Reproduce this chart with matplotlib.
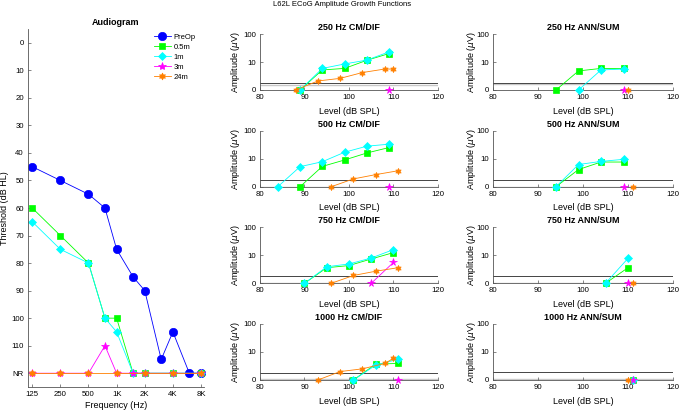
import numpy as np
import matplotlib
matplotlib.use('Agg')
import matplotlib.pyplot as plt
from matplotlib.ticker import FixedLocator, NullLocator, FixedFormatter

plt.rcParams['font.family'] = ['Liberation Sans', 'DejaVu Sans']
plt.rcParams['mathtext.fontset'] = 'dejavusans'

# ---------------- data ----------------
series = ['PreOp', '0.5m', '1m', '3m', '24m']
colors = ['#0000ff', '#00ff00', '#00ffff', '#ff00ff', '#ff8000']
markers = ['o', 's', 'D', '*', (6, 1, 0)]

NR = 120
freq_ticks = [125, 250, 500, 1000, 2000, 4000, 8000]
freq_labels = ['125', '250', '500', '1K', '2K', '4K', '8K']
thr_ticks = [0, 10, 20, 30, 40, 50, 60, 70, 80, 90, 100, 110, 120]
thr_labels = ['0', '10', '20', '30', '40', '50', '60', '70', '80', '90', '100', '110', 'NR']

preop_f = [125, 250, 500, 750, 1000, 1500, 2000, 3000, 4000, 6000, 8000]
preop_t = [45, 50, 55, 60, 75, 85, 90, 115, 105, 120, 120]
m05_f = [125, 250, 500, 750, 1000, 1500, 2000, 4000, 8000]
m05_t = [60, 70, 80, 100, 100, 120, 120, 120, 120]
m1_f = [125, 250, 500, 750, 1000, 1500, 2000, 4000, 8000]
m1_t = [65, 75, 80, 100, 105, 120, 120, 120, 120]
m3_f = [125, 250, 500, 750, 1000, 1500, 2000, 4000, 8000]
m3_t = [120, 120, 120, 110, 120, 120, 120, 120, 120]
m24_f = [125, 250, 500, 1000, 2000, 4000, 8000]
m24_t = [120, 120, 120, 120, 120, 120, 120]

# ECoG amplitude growth (level dB SPL, amplitude uV; 0 = no response)
cm250 = {'0.5m': ([89, 94, 99, 104, 109], [0, 5.2, 5.9, 11.5, 20]),
         '1m': ([89, 94, 99, 104, 109], [0, 5.9, 8.5, 11.7, 23]),
         '3m': ([109], [0]),
         '24m': ([88, 93, 98, 103, 108, 110], [0, 2.1, 2.6, 4.2, 5.6, 5.6])}
ann250 = {'0.5m': ([94, 99, 104, 109], [0, 4.8, 5.9, 5.9]),
          '1m': ([99, 104, 109], [0, 5.2, 5.6]),
          '3m': ([109], [0]),
          '24m': ([110], [0])}
cm500 = {'0.5m': ([89, 94, 99, 104, 109], [0, 5.3, 9, 16, 25]),
         '1m': ([84, 89, 94, 99, 104, 109], [0, 5.2, 7.8, 17, 28, 33]),
         '3m': ([109], [0]),
         '24m': ([96, 101, 106, 111], [0, 1.9, 2.7, 3.7])}
ann500 = {'0.5m': ([94, 99, 104, 109], [0, 4.1, 7.6, 7.6]),
          '1m': ([94, 99, 104, 109], [0, 6.2, 8, 9.5]),
          '3m': ([109], [0]),
          '24m': ([111], [0])}
cm750 = {'0.5m': ([90, 95, 100, 105, 110], [0, 3.6, 4.3, 7.4, 12.5]),
         '1m': ([90, 95, 100, 105, 110], [0, 3.9, 4.9, 8, 16]),
         '3m': ([105, 110], [0, 5.6]),
         '24m': ([96, 101, 106, 111], [0, 1.9, 2.7, 3.6])}
ann750 = {'0.5m': ([105, 110], [0, 3.6]),
          '1m': ([105, 110], [0, 7.8]),
          '3m': ([110], [0]),
          '24m': ([111], [0])}
cm1000 = {'0.5m': ([101, 106, 111], [0, 3.7, 3.9]),
          '1m': ([101, 106, 111], [0, 3.4, 5.5]),
          '3m': ([111], [0]),
          '24m': ([93, 98, 103, 108, 110], [0, 2.0, 2.5, 3.9, 5.9])}
ann1000 = {'0.5m': ([111], [0]),
           '1m': ([111], [0]),
           '3m': ([111], [0]),
           '24m': ([110], [0])}

panels = [cm250, ann250, cm500, ann500, cm750, ann750, cm1000, ann1000]
titles = ['250 Hz CM/DIF', '250 Hz ANN/SUM', '500 Hz CM/DIF', '500 Hz ANN/SUM',
          '750 Hz CM/DIF', '750 Hz ANN/SUM', '1000 Hz CM/DIF', '1000 Hz ANN/SUM']
noise_floor = [1.75, 1.85, 1.72, 1.8, 1.78, 1.88, 1.83, 2.0]
gray_floor = [1.45, 1.7, 1.0, 1.0, 1.0, 1.0, 1.06, 1.08]
amp_ticks = [1, 10, 100]
amp_labels = ['0', '10', '100']
lvl_ticks = [80, 90, 100, 110, 120]

# ---------------- figure ----------------
W, H = 680, 415
fig = plt.figure(figsize=(6.8, 4.15), dpi=100)

def fr(x0, y0, x1, y1):
    return [x0 / W, 1 - y1 / H, (x1 - x0) / W, (y1 - y0) / H]

def style(ax):
    for s in ['top', 'right']:
        ax.spines[s].set_visible(False)
    for s in ['left', 'bottom']:
        ax.spines[s].set_linewidth(0.6)
        ax.spines[s].set_color('#555555')
    ax.tick_params(direction='in', length=2.5, width=0.5, labelsize=5.6, pad=3,
                   colors='#555555', labelcolor='black')

# Audiogram
ax = fig.add_axes(fr(28, 29, 204, 387))
style(ax)
aud = [(preop_f, preop_t), (m05_f, m05_t), (m1_f, m1_t), (m3_f, m3_t), (m24_f, m24_t)]
msz = [6, 4.5, 4.5, 6, 5]
for i, (f, t) in enumerate(aud):
    ax.plot(f, t, color=colors[i], marker=markers[i], markersize=msz[i],
            linewidth=0.6, markeredgewidth=0.5, markeredgecolor=colors[i],
            label=series[i], clip_on=False)
ax.set_xscale('log')
ax.set_xlim(112.6, 8610)
ax.set_ylim(125, -5)
ax.xaxis.set_major_locator(FixedLocator(freq_ticks))
ax.xaxis.set_major_formatter(FixedFormatter(freq_labels))
ax.xaxis.set_minor_locator(NullLocator())
ax.set_yticks(thr_ticks)
ax.set_yticklabels(thr_labels)
ax.set_title('Audiogram', fontsize=6.5, fontweight='bold', pad=3)
ax.set_xlabel('Frequency (Hz)', fontsize=6.5, labelpad=2)
ax.set_ylabel('Threshold (dB HL)', fontsize=6.5)
ax.yaxis.set_label_coords(-18.5 / 176, 0.5)
leg = ax.legend(loc='upper right', fontsize=5.5, frameon=False, handlelength=2.2,
                handletextpad=0.4, labelspacing=0.35, borderaxespad=0.2,
                bbox_to_anchor=(0.98, 1.0))

# ECoG panels
col_x = [(260, 438), (493, 673)]
row_y = [(34, 90), (130.7, 186.7), (227.3, 283.3), (324, 380)]
ylab_off = [-18.5, -15.5]
for k, pdata in enumerate(panels):
    r, c = divmod(k, 2)
    x0, x1 = col_x[c]
    y0, y1 = row_y[r]
    a = fig.add_axes(fr(x0, y0, x1, y1))
    style(a)
    a.axhline(gray_floor[k], color='#c8c8c8', linewidth=1.0, zorder=1)
    a.axhline(noise_floor[k], color='#444444', linewidth=0.7, zorder=1.5)
    for i, s in enumerate(series):
        if s not in pdata:
            continue
        lv, am = pdata[s]
        am = np.asarray(am, dtype=float)
        yv = np.where(am > 0, am, 1.0)
        a.plot(lv, yv, color=colors[i], marker=markers[i], markersize=4.5 if i != 3 else 5.5,
               linewidth=0.6, markeredgewidth=0.5, markeredgecolor=colors[i],
               clip_on=False, zorder=3)
    a.set_yscale('log')
    a.set_ylim(1, 100)
    a.set_xlim(80, 120)
    a.yaxis.set_major_locator(FixedLocator(amp_ticks))
    a.yaxis.set_major_formatter(FixedFormatter(amp_labels))
    a.yaxis.set_minor_locator(NullLocator())
    a.set_xticks(lvl_ticks)
    a.set_title(titles[k], fontsize=6.5, fontweight='bold', pad=3)
    a.set_xlabel('Level (dB SPL)', fontsize=6.5)
    a.xaxis.set_label_coords(0.5, -16.5 / 56)
    a.set_ylabel('Amplitude ($\\mu$V)', fontsize=6.5)
    a.yaxis.set_label_coords(ylab_off[c] / (x1 - x0), 0.5)

fig.text(342 / W, 1 - 5 / H, 'L62L ECoG Amplitude Growth Functions', fontsize=5.5,
         ha='center', va='center')

fig.savefig('out.png', dpi=100, facecolor='white')
